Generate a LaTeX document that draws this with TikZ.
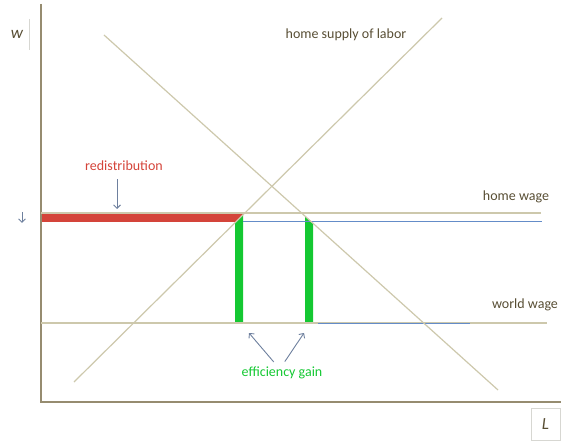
\documentclass[tikz,border=0pt]{standalone}
\usepackage{fontspec}
\setmainfont{Carlito}
\usetikzlibrary{arrows.meta}
\definecolor{wagetan}{RGB}{205,200,172}
\definecolor{axistan}{RGB}{150,140,112}
\definecolor{wageblue}{RGB}{100,140,200}
\definecolor{redistred}{RGB}{212,68,58}
\definecolor{gaingreen}{RGB}{20,200,50}
\definecolor{labelbrown}{RGB}{88,78,52}
\definecolor{arrowgray}{RGB}{110,128,158}
\definecolor{boxgray}{RGB}{215,215,210}

\begin{document}
\begin{tikzpicture}[x=1pt, y=-1pt,
      curve/.style={draw=wagetan, line width=1.2pt},
      wageline/.style={draw=wagetan, line width=1.5pt},
      blueline/.style={draw=wageblue, line width=0.8pt},
      axisline/.style={draw=axistan, line width=1.2pt},
      lbl/.style={font=\fontsize{14}{16}\selectfont, text=labelbrown, inner sep=1pt},
      arr/.style={-{Straight Barb[length=3.5pt, width=7pt]}, color=arrowgray, line width=0.9pt}
    ]
      \useasboundingbox (0,0) rectangle (561,443);

      % Supply & demand ends
      \coordinate (sLo) at (74,382);
      \coordinate (sHi) at (442,18);
      \coordinate (dHi) at (104,35);
      \coordinate (dLo) at (498,390);

      % Redistribution & efficiency bars
      \fill[redistred] (41,214) -- (intersection of sLo--sHi and 0,214--500,214) -- (intersection of sLo--sHi and 0,222--500,222) -- (41,222) -- cycle;
      \fill[gaingreen] (intersection of sLo--sHi and 235,0--235,400) -- (intersection of sLo--sHi and 243,0--243,400) -- (243,323) -- (235,323) -- cycle;
      \fill[gaingreen] (intersection of dHi--dLo and 305,0--305,400) -- (intersection of dHi--dLo and 313,0--313,400) -- (313,323) -- (305,323) -- cycle;

      % Axes & wage lines
      \draw[axisline] (41,4) -- (41,402) -- (561,402);
      \draw[wageline] (41,213) -- (541,213);
      \draw[blueline] (243,221) -- (542,221);
      \draw[wageline] (41,323) -- (547,323);
      \draw[blueline] (318,323) -- (470,323);
      \draw[curve] (sLo) -- (sHi);
      \draw[curve] (dHi) -- (dLo);

      % Labels
      \node[lbl, font=\fontsize{17}{19}\selectfont\itshape, minimum width=24pt, minimum height=31pt] (wlbl) at (17,34.5) {w};
      \draw[boxgray, line width=0.8pt] (wlbl.north east) -- (wlbl.south east);
      \node[lbl, font=\fontsize{17}{19}\selectfont\itshape, draw=boxgray, minimum width=29pt, minimum height=32pt] (Llbl) at (545.5,424) {L};
      \node[lbl] (supplylbl) at (346,35) {home supply of labor};
      \node[lbl] (homelbl) at (516,197) {home wage};
      \node[lbl] (worldlbl) at (525,305) {world wage};
      \node[lbl, text=redistred] (redist) at (124,166) {redistribution};
      \node[lbl, text=gaingreen] (gain) at (282,373) {efficiency gain};

      % Pointers
      \coordinate (redtip) at (117,209);
      \coordinate (wtop) at (22,212);
      \coordinate (wtip) at (22,223);
      \coordinate (gainL) at (249,333);
      \coordinate (gainR) at (304,333);
      \draw[arr, shorten <=7pt] (redist.south -| redtip) -- (redtip);
      \draw[arr] (wtop) -- (wtip);
      \draw[arr, shorten <=5pt] ([xshift=-5pt]gain.north) -- (gainL);
      \draw[arr, shorten <=5pt] ([xshift=0pt]gain.north) -- (gainR);
    \end{tikzpicture}
\end{document}
